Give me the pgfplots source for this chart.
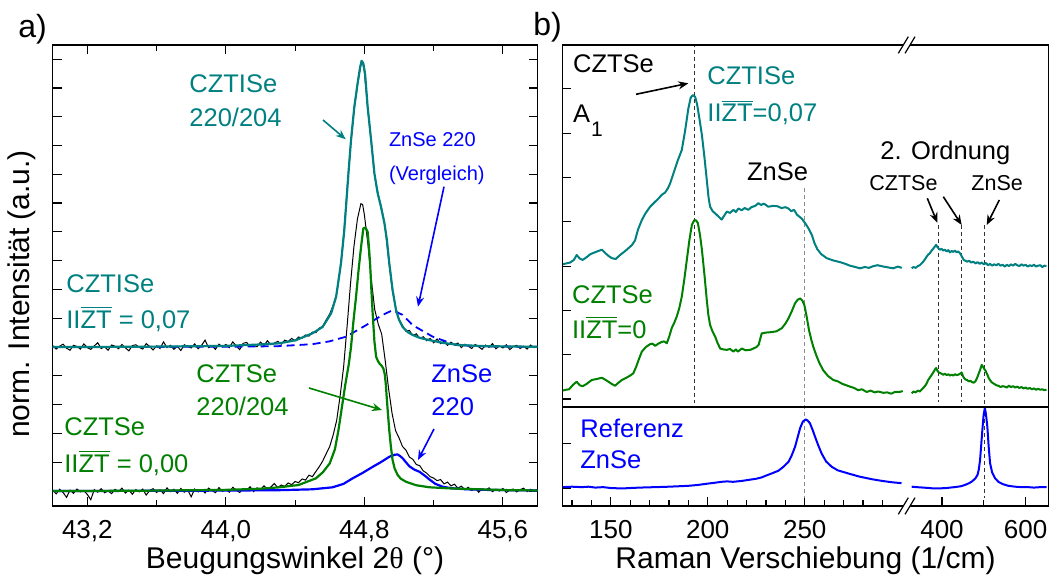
\documentclass[border=0pt]{standalone}
\usepackage{fontspec}
\setmainfont{Liberation Sans}
\newfontfamily\serifgr{Liberation Serif}
\usepackage{pgfplots}
\pgfplotsset{compat=1.18}
\usetikzlibrary{arrows.meta}
\definecolor{cteal}{RGB}{0,128,128}
\definecolor{cgreen}{RGB}{0,128,0}
\definecolor{cblue}{RGB}{0,0,255}
\newcommand\fs[1]{\fontsize{#1}{#1}\selectfont}
\begin{document}
\begin{tikzpicture}
\useasboundingbox (0pt,0pt) rectangle (526pt,-288.5pt);
\pgfplotsset{
  base/.style={scale only axis, anchor=north west, tick align=inside,
    major tick length=4.5pt, minor tick length=2.8pt,
    tick style={black,line width=0.6pt},
    xticklabel style={anchor=north, inner sep=0pt, yshift=-7pt, font=\fs{13}},
    yticklabels={}},
  bax/.style={separate axis lines, axis line style={draw=none}},
  dl/.style={line width=0.5pt, dash pattern=on 2pt off 1.5pt},
}
% ---------------- panel a ----------------
\begin{axis}[base, at={(26.35pt,-22.5pt)}, width=242.4pt, height=230.5pt,
  xmin=43.0, xmax=45.8, ymin=-0.52, ymax=15.49,
  xtick={43.2,44.0,44.8,45.6}, xticklabels={{43,2},{44,0},{44,8},{45,6}},
  minor xtick={43.6,44.4,45.2}, ytick={0,...,15},
  axis line style={line width=0.75pt}]
\addplot[black, line width=0.5pt] coordinates {
(43.00,5.05) (43.02,4.93) (43.04,5.03) (43.06,5.10) (43.08,4.96) (43.10,4.89) (43.12,5.06) (43.14,5.02) (43.16,4.93) (43.18,5.11)
(43.20,4.98) (43.22,4.92) (43.24,5.04) (43.26,5.15) (43.28,4.95) (43.30,5.01) (43.32,4.89) (43.34,5.07) (43.36,5.03) (43.38,4.94)
(43.40,5.09) (43.42,4.97) (43.44,4.87) (43.46,5.05) (43.48,5.08) (43.50,4.99) (43.52,4.93) (43.54,5.12) (43.56,5.02) (43.58,4.90)
(43.60,5.04) (43.62,4.95) (43.64,5.18) (43.66,4.98) (43.68,5.06) (43.70,4.92) (43.72,5.03) (43.74,4.88) (43.76,5.08) (43.78,5.02)
(43.80,4.97) (43.82,5.11) (43.84,4.94) (43.86,5.06) (43.88,5.24) (43.90,4.98) (43.92,5.05) (43.94,4.92) (43.96,5.10) (43.98,5.01)
(44.00,5.09) (44.02,4.98) (44.04,5.18) (44.06,5.04) (44.08,4.91) (44.10,5.13) (44.12,5.16) (44.14,5.02) (44.16,5.09) (44.18,5.01)
(44.20,5.17) (44.22,5.05) (44.24,5.22) (44.26,5.08) (44.28,5.14) (44.30,5.20) (44.32,5.10) (44.34,5.24) (44.36,5.19) (44.38,5.30)
(44.40,5.22) (44.42,5.35) (44.44,5.31) (44.46,5.42) (44.48,5.38) (44.50,5.52) (44.52,5.50) (44.54,5.66) (44.56,5.72) (44.58,5.95)
(44.60,6.15) (44.62,6.45) (44.64,6.85) (44.66,7.70) (44.68,8.80) (44.70,10.45) (44.72,11.95) (44.74,13.20) (44.76,14.10) (44.78,14.80)
(44.79,14.90) (44.80,14.55) (44.82,13.25) (44.84,12.10) (44.86,10.90) (44.88,10.30) (44.90,9.80) (44.92,9.15) (44.94,8.05) (44.96,7.05)
(44.98,6.40) (45.00,5.95) (45.02,5.75) (45.04,5.55) (45.06,5.58) (45.08,5.40) (45.10,5.46) (45.12,5.30) (45.14,5.36) (45.16,5.22)
(45.18,5.30) (45.20,5.15) (45.22,5.28) (45.24,5.12) (45.26,5.20) (45.28,5.06) (45.30,5.17) (45.32,5.08) (45.34,5.14) (45.36,4.98)
(45.38,5.10) (45.40,5.03) (45.42,4.95) (45.44,5.09) (45.46,5.01) (45.48,4.92) (45.50,5.07) (45.52,4.99) (45.54,5.12) (45.56,4.94)
(45.58,5.04) (45.60,4.97) (45.62,5.08) (45.64,4.91) (45.66,5.02) (45.68,5.06) (45.70,4.95) (45.72,5.03) (45.74,4.93) (45.76,5.07)
(45.78,4.98) (45.80,5.02)};
\addplot[black, line width=0.5pt] coordinates {
(43.00,0.04) (43.02,-0.10) (43.04,0.06) (43.06,-0.05) (43.08,-0.22) (43.10,0.03) (43.12,-0.08) (43.14,0.07) (43.16,-0.03) (43.18,0.02)
(43.20,-0.12) (43.22,-0.30) (43.24,0.05) (43.26,-0.04) (43.28,0.08) (43.30,-0.06) (43.32,0.01) (43.34,-0.09) (43.36,0.06) (43.38,-0.02)
(43.40,0.10) (43.42,-0.07) (43.44,0.03) (43.46,-0.11) (43.48,0.05) (43.50,-0.03) (43.52,0.07) (43.54,-0.14) (43.56,0.02) (43.58,0.08)
(43.60,-0.05) (43.62,0.04) (43.64,-0.09) (43.66,0.11) (43.68,-0.02) (43.70,0.06) (43.72,-0.08) (43.74,0.09) (43.76,-0.04) (43.78,0.03)
(43.80,-0.20) (43.82,0.07) (43.84,-0.03) (43.86,0.05) (43.88,-0.07) (43.90,0.10) (43.92,0.02) (43.94,-0.06) (43.96,0.12) (43.98,-0.01)
(44.00,0.06) (44.02,-0.04) (44.04,0.13) (44.06,0.03) (44.08,-0.05) (44.10,0.09) (44.12,0.02) (44.14,0.15) (44.16,-0.02) (44.18,0.11)
(44.20,0.05) (44.22,0.18) (44.24,0.07) (44.26,0.14) (44.28,0.26) (44.30,0.12) (44.32,0.21) (44.34,0.16) (44.36,0.28) (44.38,0.22)
(44.40,0.33) (44.42,0.29) (44.44,0.42) (44.46,0.38) (44.48,0.55) (44.50,0.50) (44.52,0.68) (44.54,0.85) (44.56,1.05) (44.58,1.30)
(44.60,1.55) (44.62,1.95) (44.64,2.45) (44.66,3.30) (44.68,4.30) (44.70,5.70) (44.72,7.20) (44.74,8.50) (44.76,9.45) (44.78,9.98)
(44.79,9.95) (44.80,9.60) (44.82,8.60) (44.84,7.35) (44.86,6.30) (44.88,5.80) (44.90,5.45) (44.92,4.55) (44.94,3.55) (44.96,2.70)
(44.98,2.10) (45.00,1.85) (45.02,1.55) (45.04,1.42) (45.06,1.18) (45.08,1.10) (45.10,0.92) (45.12,0.88) (45.14,0.70) (45.16,0.62)
(45.18,0.50) (45.20,0.45) (45.22,0.36) (45.24,0.40) (45.26,0.25) (45.28,0.31) (45.30,0.18) (45.32,0.24) (45.34,0.10) (45.36,0.17)
(45.38,0.05) (45.40,0.13) (45.42,0.02) (45.44,0.09) (45.46,-0.04) (45.48,0.08) (45.50,0.03) (45.52,0.11) (45.54,-0.02) (45.56,0.06)
(45.58,0.00) (45.60,0.09) (45.62,-0.05) (45.64,0.04) (45.66,0.07) (45.68,-0.03) (45.70,0.05) (45.72,0.10) (45.74,-0.02) (45.76,0.06)
(45.78,0.01) (45.80,0.04)};
\addplot[cblue, line width=0.9pt, dash pattern=on 4pt off 2.5pt] coordinates {
(43.00,5.00) (44.00,5.01) (44.30,5.03) (44.50,5.10) (44.60,5.20) (44.694,5.36) (44.81,5.76) (44.90,6.10) (44.963,6.28)
(45.02,6.12) (45.079,5.76) (45.195,5.36) (45.33,5.07) (45.50,5.02) (45.80,5.01)};
\addplot[cteal, line width=1.1pt, line join=round] coordinates {
(43.00,5.00) (43.50,5.01) (44.00,5.04) (44.20,5.09) (44.309,5.13) (44.405,5.24) (44.501,5.48) (44.559,5.70) (44.608,6.17)
(44.637,6.75) (44.665,7.91) (44.684,9.06) (44.694,9.87) (44.708,11.03) (44.723,12.19) (44.742,13.34) (44.761,14.16) (44.775,14.70)
(44.784,14.94) (44.794,14.85) (44.804,14.50) (44.819,13.34) (44.839,12.19) (44.858,11.03) (44.877,10.34) (44.896,9.87) (44.916,9.30)
(44.930,8.72) (44.944,7.91) (44.963,6.98) (44.983,6.28) (45.00,5.95) (45.021,5.70) (45.05,5.52) (45.079,5.42) (45.12,5.32)
(45.176,5.24) (45.26,5.14) (45.349,5.07) (45.50,5.03) (45.80,5.01)};
\addplot[cblue, line width=1.1pt, line join=round] coordinates {
(43.00,0.00) (43.80,0.01) (44.10,0.02) (44.31,0.03) (44.50,0.06) (44.617,0.13) (44.68,0.25) (44.732,0.44) (44.79,0.63) (44.848,0.84)
(44.90,1.02) (44.944,1.19) (44.975,1.26) (44.992,1.27) (45.005,1.22) (45.021,1.14) (45.040,1.00) (45.060,0.86) (45.090,0.74)
(45.118,0.67) (45.150,0.53) (45.176,0.40) (45.21,0.25) (45.252,0.15) (45.30,0.10) (45.388,0.06) (45.50,0.04) (45.638,0.03) (45.80,0.02)};
\addplot[cgreen, line width=1.1pt, line join=round] coordinates {
(43.00,0.00) (43.50,0.01) (44.00,0.04) (44.20,0.08) (44.31,0.13) (44.42,0.21) (44.52,0.44) (44.56,0.65) (44.60,0.96) (44.63,1.45)
(44.65,2.10) (44.67,2.90) (44.69,3.70) (44.71,4.40) (44.723,5.01) (44.737,5.90) (44.752,6.75) (44.767,7.70) (44.781,8.48)
(44.794,9.12) (44.806,9.15) (44.819,9.00) (44.826,8.50) (44.833,7.91) (44.840,7.05) (44.848,6.17) (44.858,5.20) (44.868,4.66)
(44.878,4.52) (44.887,4.43) (44.900,4.35) (44.910,4.25) (44.918,4.05) (44.924,3.70) (44.929,3.27) (44.936,2.70) (44.944,2.10)
(44.953,1.55) (44.963,1.08) (44.975,0.78) (44.992,0.56) (45.010,0.43) (45.041,0.32) (45.10,0.20) (45.176,0.13) (45.30,0.09)
(45.464,0.06) (45.638,0.03) (45.80,0.02)};
\end{axis}
% ---------------- panel b, upper left ----------------
\begin{axis}[base, bax, at={(281.15pt,-22.5pt)}, width=171.35pt, height=181pt,
  xmin=125, xmax=301.7, ymin=-0.18, ymax=7.99, xtick=\empty, ytick={0,...,7}, ytick pos=left]
\addplot[dl, black!80] coordinates {(193,8.5) (193,-0.09)};
\addplot[dl, black!45] coordinates {(250,4.76) (250,-0.5)};
\addplot[cteal, line width=1pt, line join=round] coordinates {
(125.0,3.04) (127.0,3.06) (129.0,3.08) (131.0,3.14) (132.4,3.25) (134.0,3.17) (135.5,3.14) (137.5,3.20) (139.5,3.27) (141.8,3.31)
(143.5,3.34) (145.4,3.37) (147.0,3.30) (148.8,3.23) (150.5,3.18) (152.5,3.16) (154.5,3.24) (157.4,3.34) (159.5,3.42) (161.0,3.48)
(162.5,3.58) (164.0,3.82) (166.0,4.04) (168.0,4.20) (170.3,4.34) (172.8,4.45) (174.5,4.52) (176.3,4.61) (178.0,4.66) (179.5,4.76)
(180.6,4.87) (182.5,5.12) (184.5,5.38) (186.6,5.62) (188.3,6.05) (190.0,6.56) (191.2,6.80) (192.3,6.86) (193.5,6.82) (194.5,6.65)
(195.8,6.30) (197.0,5.95) (198.3,5.45) (199.5,4.94) (200.4,4.55) (201.2,4.34) (202.5,4.24) (203.8,4.19) (205.5,4.12) (207.2,4.05)
(208.5,4.14) (209.8,4.23) (211.5,4.20) (213.2,4.27) (214.5,4.22) (215.8,4.30) (217.5,4.26) (219.0,4.31) (220.9,4.27) (222.5,4.33)
(224.5,4.36) (226.1,4.42) (227.5,4.38) (229.0,4.41) (231.2,4.34) (233.8,4.36) (236.0,4.35) (238.0,4.31) (240.0,4.33) (241.6,4.30)
(243.0,4.24) (244.5,4.27) (246.0,4.16) (248.5,4.07) (250.2,3.97) (251.8,3.86) (253.7,3.70) (255.0,3.52) (256.5,3.38) (258.5,3.27)
(261.3,3.18) (264.5,3.13) (268.2,3.09) (271.0,3.05) (273.3,3.01) (276.0,2.98) (278.5,2.95) (281.0,2.98) (283.0,2.96) (285.4,3.00)
(287.5,3.02) (290.5,2.99) (293.0,2.97) (295.7,2.95) (298.0,2.99) (300.0,2.96)};
\addplot[cgreen, line width=1pt, line join=round] coordinates {
(125.0,0.19) (127.0,0.21) (128.5,0.22) (130.5,0.32) (132.4,0.39) (134.0,0.31) (135.5,0.29) (137.5,0.34) (140.2,0.43) (142.5,0.45)
(145.4,0.48) (147.0,0.44) (148.8,0.39) (150.5,0.34) (152.2,0.30) (154.0,0.37) (155.7,0.43) (158.0,0.48) (160.0,0.53) (161.6,0.58)
(163.0,0.72) (164.5,0.90) (166.0,1.07) (168.0,1.17) (170.3,1.24) (171.5,1.25) (172.9,1.20) (174.5,1.25) (176.3,1.29) (177.5,1.30)
(178.9,1.26) (180.2,1.42) (181.4,1.60) (182.7,1.72) (184.0,1.86) (185.3,2.05) (186.6,2.31) (187.9,2.70) (189.2,3.14) (190.5,3.58)
(191.8,3.93) (193.1,4.04) (194.0,4.03) (194.9,3.97) (196.0,3.70) (197.0,3.36) (198.3,2.80) (199.5,2.23) (200.3,1.90) (201.2,1.67)
(202.5,1.52) (203.8,1.41) (205.0,1.27) (206.4,1.14) (208.0,1.12) (209.8,1.11) (211.5,1.13) (213.2,1.07) (214.5,1.12) (215.5,1.07)
(217.6,1.14) (219.5,1.10) (221.9,1.11) (223.5,1.14) (225.0,1.17) (226.2,1.22) (227.0,1.35) (227.8,1.48) (230.0,1.50) (233.0,1.51)
(235.5,1.53) (238.2,1.60) (240.0,1.70) (241.6,1.82) (243.3,1.98) (245.0,2.16) (246.3,2.24) (247.6,2.27) (248.8,2.22) (249.8,2.12)
(251.0,1.86) (252.2,1.55) (253.5,1.32) (254.4,1.18) (256.0,0.98) (257.5,0.82) (259.5,0.65) (262.0,0.52) (264.7,0.43) (267.0,0.40)
(269.5,0.34) (271.5,0.31) (273.3,0.28) (275.5,0.25) (277.5,0.20) (279.5,0.22) (281.9,0.16) (284.0,0.19) (286.0,0.15) (288.0,0.17)
(290.5,0.14) (292.5,0.15) (294.5,0.12) (296.5,0.16) (299.1,0.16) (300.5,0.18)};
\end{axis}
% ---------------- panel b, upper right ----------------
\begin{axis}[base, bax, at={(452.5pt,-22.5pt)}, width=71.65pt, height=181pt,
  xmin=311.5, xmax=654.3, ymin=-0.18, ymax=7.99, xtick=\empty, ytick=\empty]
\addplot[dl, black!80] coordinates {(390.4,3.93) (390.4,-0.06)};
\addplot[dl, black!80] coordinates {(447,3.93) (447,-0.06)};
\addplot[dl, black!80] coordinates {(502,3.93) (502,-0.5)};
\addplot[cteal, line width=1pt, line join=round] coordinates {
(327.5,2.95) (332,2.98) (337,2.96) (342,3.00) (347,3.02) (351,3.06) (355,3.10) (359,3.15) (363,3.21) (367,3.26) (371,3.29)
(375,3.35) (378,3.38) (381,3.42) (383,3.44) (386,3.48) (389,3.43) (392,3.40) (395,3.37) (399,3.39) (403,3.35) (407,3.37)
(411,3.33) (415,3.36) (419,3.31) (423,3.34) (427,3.32) (431,3.35) (435,3.31) (439,3.33) (443,3.29) (446,3.24) (449,3.19)
(452,3.14) (456,3.12) (460,3.10) (465,3.12) (470,3.08) (475,3.10) (480,3.06) (485,3.09) (490,3.05) (495,3.08) (500,3.04)
(505,3.07) (510,3.02) (515,3.05) (520,3.01) (525,3.04) (530,3.02) (535,3.05) (540,3.01) (545,3.03) (550,2.99) (555,3.03)
(560,3.00) (565,3.04) (570,3.01) (575,3.05) (580,3.02) (585,3.00) (590,3.04) (595,3.01) (600,3.03) (605,2.99) (610,3.02)
(615,3.00) (620,3.03) (625,2.99) (630,3.01) (635,3.02) (640,2.98) (645,3.01) (650,3.00)};
\addplot[cgreen, line width=1pt, line join=round] coordinates {
(327.5,0.13) (332,0.17) (337,0.15) (342,0.19) (347,0.17) (352,0.22) (357,0.27) (362,0.33) (367,0.43) (372,0.50) (377,0.57)
(381,0.63) (384,0.68) (386,0.70) (389,0.64) (392,0.60) (395,0.59) (399,0.57) (403,0.55) (407,0.57) (411,0.54) (415,0.56)
(419,0.53) (423,0.55) (427,0.53) (431,0.56) (435,0.54) (439,0.55) (443,0.57) (447,0.60) (450,0.52) (453,0.47) (456,0.44)
(460,0.43) (464,0.40) (468,0.41) (472,0.38) (476,0.37) (480,0.40) (484,0.48) (488,0.58) (492,0.68) (495,0.77) (498,0.73)
(501,0.68) (504,0.64) (508,0.56) (512,0.47) (516,0.41) (520,0.37) (525,0.34) (530,0.31) (535,0.30) (540,0.27) (545,0.29)
(550,0.28) (555,0.26) (560,0.30) (565,0.27) (570,0.29) (575,0.26) (580,0.28) (585,0.25) (590,0.27) (595,0.24) (600,0.26)
(605,0.23) (610,0.25) (615,0.22) (620,0.24) (625,0.21) (630,0.23) (635,0.21) (640,0.22) (645,0.20) (650,0.21)};
\end{axis}
% ---------------- panel b, lower left ----------------
\begin{axis}[base, bax, at={(281.15pt,-203.5pt)}, width=171.35pt, height=49.5pt,
  xmin=125, xmax=301.7, ymin=-0.406, ymax=1.83,
  xtick={150,200,250}, xticklabels={150,200,250},
  minor xtick={130,140,160,170,180,190,210,220,230,240,260,270,280,290},
  xtick pos=left, ytick={0,1}, ytick pos=left]
\addplot[dl, black!45] coordinates {(250,2.5) (250,-0.23)};
\addplot[cblue, line width=1pt, line join=round] coordinates {
(125,0.02) (130,0.03) (135,0.02) (138.5,0.03) (142,0.01) (146,0.02) (150,0.00) (155.7,-0.01) (160,0.00) (165,0.01)
(172.8,0.02) (180,0.03) (185,0.04) (190,0.05) (195,0.07) (200,0.10) (203.8,0.12) (207,0.14) (210,0.15) (213,0.14)
(217.5,0.16) (222,0.19) (225,0.21) (227.8,0.24) (230,0.28) (233,0.33) (236.4,0.39) (239,0.48) (241.6,0.59) (243.3,0.74)
(245.0,0.93) (246.3,1.14) (247.6,1.35) (249.0,1.50) (250.5,1.55) (251.6,1.52) (252.7,1.46) (254.0,1.32) (255.3,1.16)
(257.0,0.96) (258.7,0.78) (261,0.60) (263.9,0.48) (267,0.40) (272.4,0.33) (278,0.26) (284.5,0.20) (290,0.16) (295,0.13) (299.9,0.11)};
\end{axis}
% ---------------- panel b, lower right ----------------
\begin{axis}[base, bax, at={(452.5pt,-203.5pt)}, width=71.65pt, height=49.5pt,
  xmin=311.5, xmax=654.3, ymin=-0.406, ymax=1.83,
  xtick={400,600}, xticklabels={400,600}, minor xtick={500},
  xtick pos=left, ytick=\empty]
\addplot[dl, black!80] coordinates {(502,2.5) (502,-0.23)};
\addplot[cblue, line width=1pt, line join=round] coordinates {
(327.5,0.03) (340,0.02) (355,0.01) (370,0.00) (380,-0.01) (391,-0.01) (410,0.00) (430,0.02) (445,0.04) (455,0.07) (465,0.11)
(472,0.15) (480,0.22) (485,0.30) (488,0.42) (491,0.63) (494,1.00) (496.5,1.31) (499.5,1.65) (502.5,1.81) (505,1.68) (508.5,1.38)
(511.5,0.95) (515,0.56) (520,0.35) (527,0.22) (535,0.14) (545,0.09) (558.6,0.05) (575,0.03) (590,0.02) (606.5,0.02) (620,0.01)
(635,0.02) (650.5,0.02)};
\end{axis}
% ---------------- frame of panel b ----------------
\draw[line width=0.75pt] (281.15pt,-22.5pt) rectangle (524.15pt,-253pt);
\draw[line width=0.75pt] (281.15pt,-203.5pt) -- (524.15pt,-203.5pt);
\fill[white] (449.15pt,-26.65pt) -- (454.15pt,-18.35pt) -- (457.5pt,-18.35pt) -- (452.5pt,-26.65pt) -- cycle;
\draw[line width=0.6pt] (449.15pt,-26.65pt) -- (454.15pt,-18.35pt);
\draw[line width=0.6pt] (452.5pt,-26.65pt) -- (457.5pt,-18.35pt);
\fill[white] (449.15pt,-257.15pt) -- (454.15pt,-248.85pt) -- (457.5pt,-248.85pt) -- (452.5pt,-257.15pt) -- cycle;
\draw[line width=0.6pt] (449.15pt,-257.15pt) -- (454.15pt,-248.85pt);
\draw[line width=0.6pt] (452.5pt,-257.15pt) -- (457.5pt,-248.85pt);
% ---------------- labels ----------------
\node[anchor=base west, inner sep=0pt, font=\fs{16}] at (9pt,-19pt) {a)};
\node[anchor=base west, inner sep=0pt, font=\fs{16}] at (266.5pt,-18pt) {b)};
\node[rotate=90, font=\fs{15}] at (11pt,-147pt) {norm. Intensität (a.u.)};
\node[anchor=base, inner sep=0pt, font=\fs{15}] at (147.5pt,-284pt) {Beugungswinkel 2{\serifgr θ} (°)};
\node[anchor=base, inner sep=0pt, font=\fs{15}] at (402.75pt,-284pt) {Raman Verschiebung (1/cm)};
% panel a annotations
\begin{scope}[every node/.style={anchor=base west, inner sep=0pt, font=\fs{12.75}}]
\node[text=cteal] at (94.5pt,-46.5pt) {CZTISe};
\node[text=cteal] at (94.5pt,-63.5pt) {220/204};
\node[text=cteal] at (33pt,-146pt) {CZTISe};
\node[text=cteal] at (33pt,-164pt) {II$\overline{\mbox{ZT}}$ = 0,07};
\node[text=cgreen] at (98pt,-191pt) {CZTSe};
\node[text=cgreen] at (98pt,-207.5pt) {220/204};
\node[text=cblue] at (215.5pt,-191pt) {ZnSe};
\node[text=cblue] at (215.5pt,-207.5pt) {220};
\node[text=cgreen] at (32pt,-217.5pt) {CZTSe};
\node[text=cgreen] at (32pt,-236pt) {II$\overline{\mbox{ZT}}$ = 0,00};
\node[text=cblue, font=\fs{10}] at (194.3pt,-73.5pt) {ZnSe 220};
\node[text=cblue, font=\fs{10}] at (194.3pt,-90pt) {(Vergleich)};
% panel b annotations
\node at (286.35pt,-36.5pt) {CZTSe};
\node at (286.35pt,-61.5pt) {A};
\node[font=\fs{10.5}] at (295.35pt,-68.5pt) {1};
\node[text=cteal] at (353.5pt,-42.5pt) {CZTISe};
\node[text=cteal] at (353.5pt,-61pt) {II$\overline{\mbox{ZT}}$=0,07};
\node at (373.35pt,-90pt) {ZnSe};
\node at (440pt,-80pt) {2. Ordnung};
\node[font=\fs{10.75}] at (434.5pt,-95.5pt) {CZTSe};
\node[font=\fs{10.75}] at (485.5pt,-95.5pt) {ZnSe};
\node[text=cgreen] at (285.85pt,-151.5pt) {CZTSe};
\node[text=cgreen] at (285.85pt,-169pt) {II$\overline{\mbox{ZT}}$=0};
\node[text=cblue] at (290pt,-218.5pt) {Referenz};
\node[text=cblue] at (290pt,-234pt) {ZnSe};
\end{scope}
% arrows
\begin{scope}[line width=0.8pt, -{Stealth[length=5pt,width=4pt]}]
\draw[cteal] (161.5pt,-60pt) -- (172.85pt,-69.65pt);
\draw[cblue] (222pt,-93.35pt) -- (209pt,-153.35pt);
\draw[cgreen] (154.5pt,-194pt) -- (191pt,-205pt);
\draw[cblue] (217pt,-214.5pt) -- (209pt,-230pt);
\draw[black] (318pt,-47.15pt) -- (344.15pt,-41.65pt);
\draw[black] (463.65pt,-99.15pt) -- (468.65pt,-111.35pt);
\draw[black] (471.65pt,-98.35pt) -- (480.85pt,-112.5pt);
\draw[black] (499.65pt,-100pt) -- (493.35pt,-112.5pt);
\end{scope}
\end{tikzpicture}
\end{document}
